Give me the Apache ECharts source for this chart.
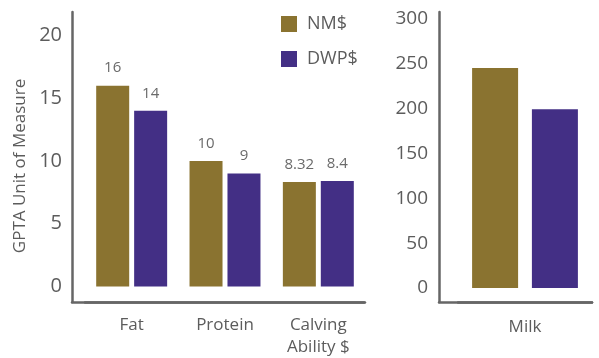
<!DOCTYPE html>
<html>
<head>
<meta charset="utf-8">
<script src="https://cdn.jsdelivr.net/npm/echarts@6/dist/echarts.min.js"></script>
<style>
  html, body { margin: 0; padding: 0; background: #fff; }
  #chart { width: 599px; height: 358px; }
</style>
</head>
<body>
<div id="chart"></div>
<script>
// Trait categories and GPTA values per index
const traitCategories = ['Fat', 'Protein', 'Calving\nAbility $'];
const nmValues = [16, 10, 8.32];
const dwpValues = [14, 9, 8.4];

const milkCategories = ['Milk'];
const milkNM = [245];
const milkDWP = [199];

const leftTicks = [0, 5, 10, 15, 20];
const rightTicks = [0, 50, 100, 150, 200, 250, 300];

const GOLD = '#8a7330';
const PURPLE = '#432f85';
const AXIS = '#666666';
const TEXT = '#5c5c5c';
const FONT = '"Open Sans", sans-serif';

const chart = echarts.init(document.getElementById('chart'), null, { renderer: 'canvas' });

const valueLabel = {
  show: true,
  position: 'top',
  distance: 10,
  color: '#6a6a6a',
  fontSize: 15,
  fontFamily: FONT
};

chart.setOption({
  animation: false,
  backgroundColor: '#ffffff',
  textStyle: { fontFamily: FONT },
  legend: {
    orient: 'vertical',
    left: 276,
    top: 10,
    itemWidth: 16,
    itemHeight: 16,
    itemGap: 17,
    icon: 'rect',
    data: ['NM$', 'DWP$'],
    textStyle: { fontSize: 18, color: TEXT, fontFamily: FONT, padding: [0, 0, 0, 5] }
  },
  grid: [
    { left: 85, right: 234, top: 12, bottom: 56 },
    { left: 458, right: 7, top: 12, bottom: 56 },
    { left: 72, right: 235, top: 12, bottom: 56 },
    { left: 439, right: 7, top: 12, bottom: 56 }
  ],
  xAxis: [
    {
      type: 'category', gridIndex: 0, data: traitCategories,
      axisLine: { show: true, onZero: false, lineStyle: { color: AXIS, width: 2.5 } },
      axisTick: { show: false },
      axisLabel: { color: TEXT, fontSize: 17, lineHeight: 22, margin: 12, fontFamily: FONT }
    },
    {
      type: 'category', gridIndex: 1, data: milkCategories,
      axisLine: { show: true, onZero: false, lineStyle: { color: AXIS, width: 2.5 } },
      axisTick: { show: false },
      axisLabel: { color: TEXT, fontSize: 17, lineHeight: 22, margin: 14, fontFamily: FONT }
    },
    {
      type: 'category', gridIndex: 2, data: [''],
      axisLine: { show: true, onZero: false, lineStyle: { color: AXIS, width: 2.5 } },
      axisTick: { show: false }, axisLabel: { show: false }
    },
    {
      type: 'category', gridIndex: 3, data: [''],
      axisLine: { show: true, onZero: false, lineStyle: { color: AXIS, width: 2.5 } },
      axisTick: { show: false }, axisLabel: { show: false }
    }
  ],
  yAxis: [
    {
      type: 'value', gridIndex: 0, min: -1.24, max: 21.87, offset: 13,
      name: 'GPTA Unit of Measure',
      nameLocation: 'middle',
      nameRotate: 90,
      nameGap: 43,
      nameTextStyle: { color: TEXT, fontSize: 17, fontFamily: FONT, padding: [0, 18, 0, 0] },
      axisLine: { show: true, lineStyle: { color: AXIS, width: 2.5 } },
      axisTick: { show: false },
      splitLine: { show: false },
      axisLabel: { customValues: leftTicks, color: TEXT, fontSize: 20, margin: 10, fontFamily: FONT }
    },
    {
      type: 'value', gridIndex: 1, min: -15.6, max: 307.4, offset: 19,
      axisLine: { show: true, lineStyle: { color: AXIS, width: 2.5 } },
      axisTick: { show: false },
      splitLine: { show: false },
      axisLabel: { customValues: rightTicks, color: TEXT, fontSize: 19, margin: 11, fontFamily: FONT }
    },
    { type: 'value', gridIndex: 2, show: false, min: 0, max: 1 },
    { type: 'value', gridIndex: 3, show: false, min: 0, max: 1 }
  ],
  series: [
    {
      name: 'NM$', type: 'bar', xAxisIndex: 0, yAxisIndex: 0,
      data: nmValues, barWidth: 33, barGap: '15%',
      itemStyle: { color: GOLD }, label: valueLabel
    },
    {
      name: 'DWP$', type: 'bar', xAxisIndex: 0, yAxisIndex: 0,
      data: dwpValues, barWidth: 33, barGap: '15%',
      itemStyle: { color: PURPLE }, label: valueLabel
    },
    {
      name: 'NM$', type: 'bar', xAxisIndex: 1, yAxisIndex: 1,
      data: milkNM, barWidth: 46, barGap: '30%',
      itemStyle: { color: GOLD }
    },
    {
      name: 'DWP$', type: 'bar', xAxisIndex: 1, yAxisIndex: 1,
      data: milkDWP, barWidth: 46, barGap: '30%',
      itemStyle: { color: PURPLE }
    }
  ]
});
</script>
</body>
</html>
